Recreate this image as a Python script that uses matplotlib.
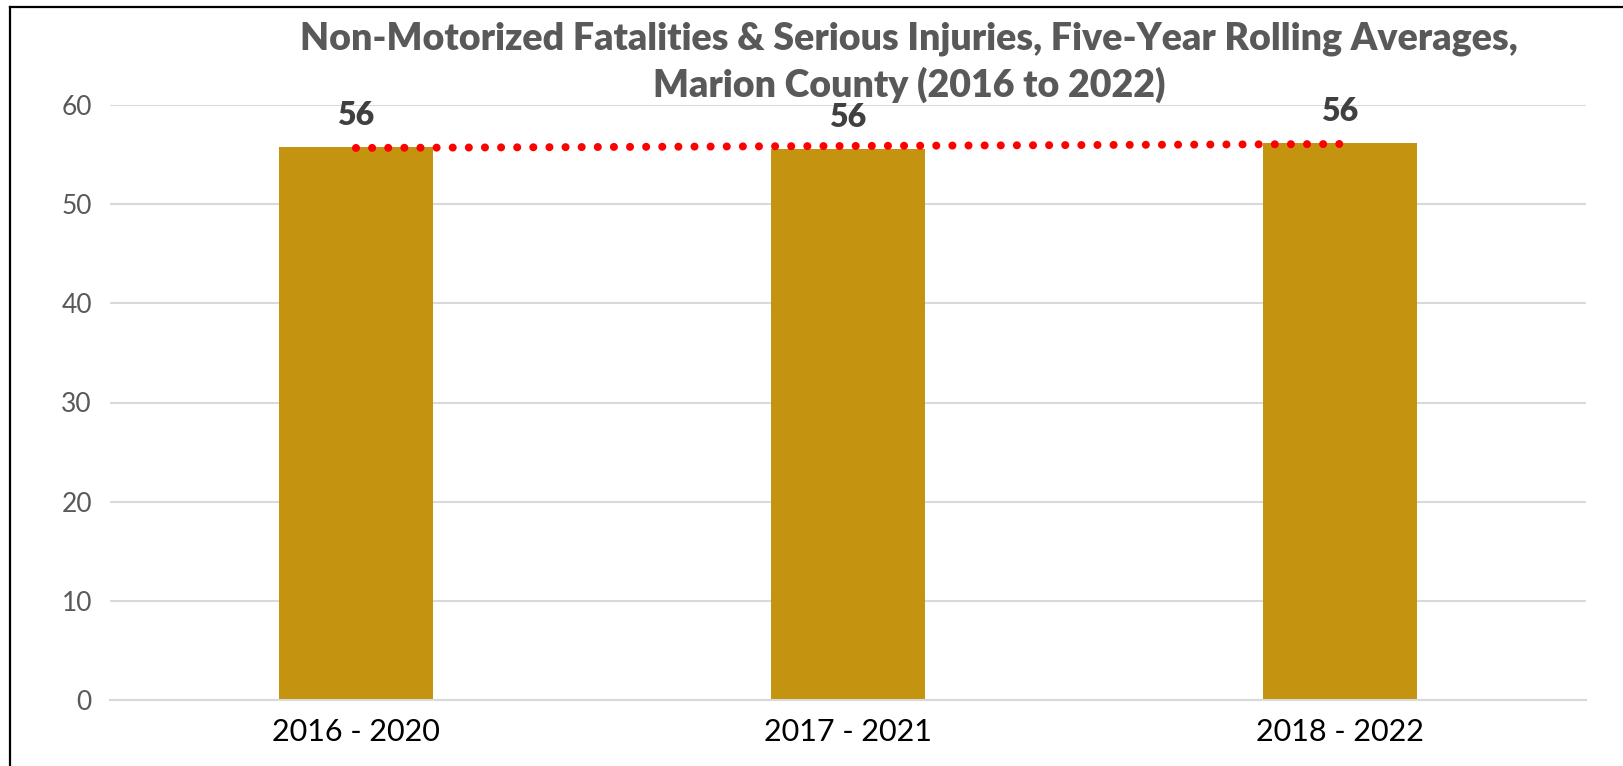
import numpy as np
import matplotlib.pyplot as plt
from matplotlib.lines import Line2D

periods = ["2016 - 2020", "2017 - 2021", "2018 - 2022"]
averages = [55.8, 55.6, 56.2]
yticks = [0, 10, 20, 30, 40, 50, 60]

plt.rcParams['font.family'] = ['Lato', 'DejaVu Sans']

fig = plt.figure(figsize=(16.24, 7.66), dpi=100)
ax = fig.add_axes([110/1624, 1 - 700/766, 1476/1624, 595/766])

x = np.arange(len(periods))
ax.bar(x, averages, width=0.313, color="#c49410", zorder=2)

# linear trend across the three periods
coef = np.polyfit(x, averages, 1)
ax.plot(x, np.polyval(coef, x), color="red", linewidth=5.8,
        linestyle=(0, (0.001, 2.0)), dash_capstyle="round", zorder=3)

for xi, v in zip(x, averages):
    ax.annotate(f"{v:.0f}", (xi, v), xytext=(0, 12), textcoords="offset points",
                ha="center", va="bottom", fontsize=23, fontweight="heavy",
                color="#404040", annotation_clip=False)

ax.set_xlim(-0.5, 2.5)
ax.set_ylim(0, 60)
ax.set_yticks(yticks)
ax.set_xticks(x, periods)
ax.yaxis.grid(True, color="#d9d9d9", linewidth=1.5, zorder=0)
ax.set_axisbelow(True)
for s in ["top", "right", "left"]:
    ax.spines[s].set_visible(False)
ax.spines["bottom"].set_color("#d9d9d9")
ax.spines["bottom"].set_linewidth(1.5)
ax.tick_params(axis="both", length=0)
ax.tick_params(axis="y", labelsize=19, labelcolor="#595959", pad=13)
ax.tick_params(axis="x", labelsize=22, labelcolor="black", pad=13)

fig.text(909/1624, 1 - 49/766,
         "Non-Motorized Fatalities & Serious Injuries, Five-Year Rolling Averages,",
         ha="center", va="baseline", fontsize=27, fontweight="heavy", color="#595959")
fig.text(909/1624, 1 - 97/766, "Marion County (2016 to 2022)",
         ha="center", va="baseline", fontsize=27, fontweight="heavy", color="#595959")

# border along top and left edge
fig.add_artist(Line2D([10/1624, 1], [1 - 7/766, 1 - 7/766], color="black", linewidth=1.6,
                      transform=fig.transFigure))
fig.add_artist(Line2D([10/1624, 10/1624], [0, 1 - 7/766], color="black", linewidth=1.6,
                      transform=fig.transFigure))

fig.savefig("out.png", dpi=100)
